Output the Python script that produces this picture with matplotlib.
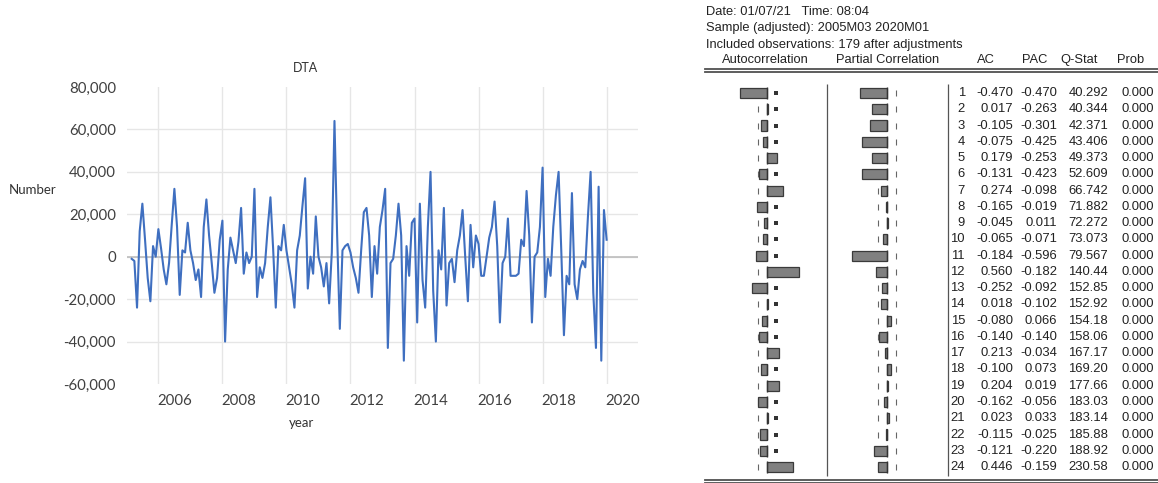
import numpy as np
import matplotlib
matplotlib.use("Agg")
import matplotlib.pyplot as plt
from matplotlib.ticker import FixedLocator, FuncFormatter
from matplotlib.transforms import blended_transform_factory

W, H, DPI = 1158, 483, 100

# Monthly first difference of TA, 2005M03 .. 2020M01, in thousands
dta_k = [
    -1, -2, -24, 12, 25, 8, -10, -21, 5, 0, 13, 4, -6, -13, -3, 15, 32, 14, -18, 3,
    2, 16, 3, -3, -11, -6, -19, 14, 27, 10, -3, -17, -10, 8, 17, -40, -6, 9, 3, -3,
    7, 23, -8, 2, -3, 0, 32, -19, -5, -10, -3, 14, 28, 4, -24, 5, 3, 15, 3, -5,
    -13, -24, 3, 10, 24, 37, -15, 0, -8, 19, 0, -5, -14, -3, -22, 2, 64, 10, -34, 3,
    5, 6, 2, -5, -10, -17, 3, 21, 23, 10, -19, 5, -8, 14, 22, 32, -43, -3, -1, 10,
    25, 10, -49, 5, -9, 16, 18, -31, 25, -11, -24, 14, 40, -16, -40, 3, -6, 23, -23, -3,
    -1, -12, 3, 10, 22, 0, -21, 15, -5, 10, 6, -9, -9, 0, 9, 14, 26, 5, -31, -3,
    0, 18, -9, -9, -9, -8, 8, 5, 31, 10, -31, 0, 2, 14, 42, -19, -1, -9, 14, 29,
    40, 3, -37, -9, -13, 30, -13, -20, -6, -2, -5, 19, 40, -17, -43, 33, -49, 22, 8,
]
start_year, start_month = 2005, 3
year_ticks = [2006, 2008, 2010, 2012, 2014, 2016, 2018, 2020]
y_ticks = [-60000, -40000, -20000, 0, 20000, 40000, 60000, 80000]

# Correlogram of DTA
lags = list(range(1, 25))
ac = [-0.470, 0.017, -0.105, -0.075, 0.179, -0.131, 0.274, -0.165, -0.045, -0.065,
      -0.184, 0.560, -0.252, 0.018, -0.080, -0.140, 0.213, -0.100, 0.204, -0.162,
      0.023, -0.115, -0.121, 0.446]
pac = [-0.470, -0.263, -0.301, -0.425, -0.253, -0.423, -0.098, -0.019, 0.011, -0.071,
       -0.596, -0.182, -0.092, -0.102, 0.066, -0.140, -0.034, 0.073, 0.019, -0.056,
       0.033, -0.025, -0.220, -0.159]
qstat = [40.292, 40.344, 42.371, 43.406, 49.373, 52.609, 66.742, 71.882, 72.272, 73.073,
         79.567, 140.44, 152.85, 152.92, 154.18, 158.06, 167.17, 169.20, 177.66, 183.03,
         183.14, 185.88, 188.92, 230.58]
prob = [0.000] * 24
n_obs = 179
header_lines = ["Date: 01/07/21   Time: 08:04",
                "Sample (adjusted): 2005M03 2020M01",
                "Included observations: 179 after adjustments"]
col_heads = ["Autocorrelation", "Partial Correlation", "AC", "PAC", "Q-Stat", "Prob"]

fig = plt.figure(figsize=(W / DPI, H / DPI), dpi=DPI)

# ---------------- line chart ----------------
t = np.array([start_year + (start_month - 1 + i) / 12 for i in range(len(dta_k))])
y = np.array(dta_k) * 1000.0

def fx(px):
    return px / W

def fy(py):
    return 1 - py / H

ax = fig.add_axes([fx(127), fy(384), (638 - 127) / W, (384 - 87) / H])
ax.plot(t, y, color="#3f6fc0", lw=1.5, solid_joinstyle="round")
ax.set_xlim(2005.02, 2020.98)
ax.set_ylim(-60000, 80000)
for s in ax.spines.values():
    s.set_visible(False)

txt_col = "#404040"
ax.yaxis.set_major_locator(FixedLocator(y_ticks))
ax.yaxis.set_major_formatter(FuncFormatter(lambda v, p: f"{v:,.0f}"))
ax.xaxis.set_major_locator(FixedLocator([yr + 0.5 for yr in year_ticks]))
ax.xaxis.set_major_formatter(FuncFormatter(lambda v, p: f"{int(v)}"))
ax.xaxis.set_minor_locator(FixedLocator(year_ticks))
ax.tick_params(axis="both", which="both", length=0, labelsize=10.8, labelcolor=txt_col)
ax.tick_params(axis="y", pad=8)
ax.tick_params(axis="x", pad=7)
for lab in ax.get_xticklabels() + ax.get_yticklabels():
    lab.set_family("Lato")

ax.grid(axis="y", which="major", color="#e6e6e6", lw=1.0)
ax.grid(axis="x", which="minor", color="#e6e6e6", lw=1.0)
glines = ax.yaxis.get_gridlines()
glines[0].set_visible(False)
glines[-1].set_visible(False)
ax.axhline(0, color="#bdbdbd", lw=1.2, zorder=1.5)
ax.set_axisbelow(True)

fig.text(fx(305), fy(68), "DTA", ha="center", va="center", fontsize=9,
         color="#333333", family="Lato")
fig.text(fx(33), fy(190), "Number", ha="center", va="center", fontsize=9.5,
         color="#333333", family="Lato")
fig.text(fx(301), fy(423), "year", ha="center", va="center", fontsize=9.5,
         color="#333333", family="Lato")

# ---------------- correlogram ----------------
tab = fig.add_axes([0, 0, 1, 1])
tab.set_xlim(0, W)
tab.set_ylim(H, 0)
tab.axis("off")
tab.patch.set_alpha(0)

tfont = dict(family="Liberation Sans", color="#222222")
for k, line in enumerate(header_lines):
    tab.text(706, 12 + 16.5 * k, line, ha="left", va="center", fontsize=9.3, **tfont)
for head, cx in zip(col_heads, [765, 888, 986, 1035, 1079, 1131]):
    tab.text(cx, 60, head, ha="center", va="center", fontsize=9.3, **tfont)

rule_col = "#505050"
tab.plot([705, W], [68.5, 68.5], color=rule_col, lw=1.3)
tab.plot([705, W], [71.5, 71.5], color=rule_col, lw=1.3)
tab.plot([705, W], [479.5, 479.5], color=rule_col, lw=1.3)
tab.plot([705, W], [482.5, 482.5], color=rule_col, lw=1.3)
tab.vlines([827, 948], 84, 476, color="#555555", lw=0.9)

unit = 58.0  # pixels per unit of correlation
row_top, row_bot = 80, 476
lag_top, lag_bot = 0.2, 24.55
bound = 2 / np.sqrt(n_obs)


def corr_axes(x0, x1, zero_px):
    a = fig.add_axes([fx(x0), fy(row_bot), (x1 - x0) / W, (row_bot - row_top) / H])
    a.set_xlim((x0 - zero_px) / unit, (x1 - zero_px) / unit)
    a.set_ylim(lag_bot, lag_top)
    a.axis("off")
    a.patch.set_alpha(0)
    return a


ax_ac = corr_axes(700, 827, 767)
ax_pac = corr_axes(830, 946, 887)
lag_arr = np.array(lags)

for a, vals, right_square in [(ax_ac, ac, True), (ax_pac, pac, False)]:
    a.plot(np.full(24, -bound), lag_arr, ls="none", marker="|", ms=4,
           mew=0.8, color="#666666", zorder=1)
    if right_square:
        a.plot(np.full(24, bound), lag_arr, ls="none", marker="s", ms=2.6,
               mew=0, color="#333333", zorder=1)
    else:
        a.plot(np.full(24, bound), lag_arr, ls="none", marker="|", ms=4,
               mew=0.8, color="#666666", zorder=1)
    a.barh(lag_arr, vals, height=0.62, color="#808080", edgecolor="#3a3a3a",
           lw=0.9, zorder=2)
    a.vlines(np.zeros(24), lag_arr - 0.36, lag_arr + 0.36, color="#333333",
             lw=1.0, zorder=3)

trans = blended_transform_factory(tab.transData, ax_ac.transData)
for lag, a_v, p_v, q_v, pr in zip(lags, ac, pac, qstat, prob):
    q_s = f"{q_v:.3f}" if q_v < 100 else f"{q_v:.2f}"
    for xr, s in [(965, str(lag)), (1013, f"{a_v:.3f}"), (1057, f"{p_v:.3f}"),
                  (1108, q_s), (1154, f"{pr:.3f}")]:
        tab.text(xr, lag, s, ha="right", va="center", fontsize=9.4,
                 transform=trans, **tfont)

fig.savefig("out.png", dpi=DPI)
